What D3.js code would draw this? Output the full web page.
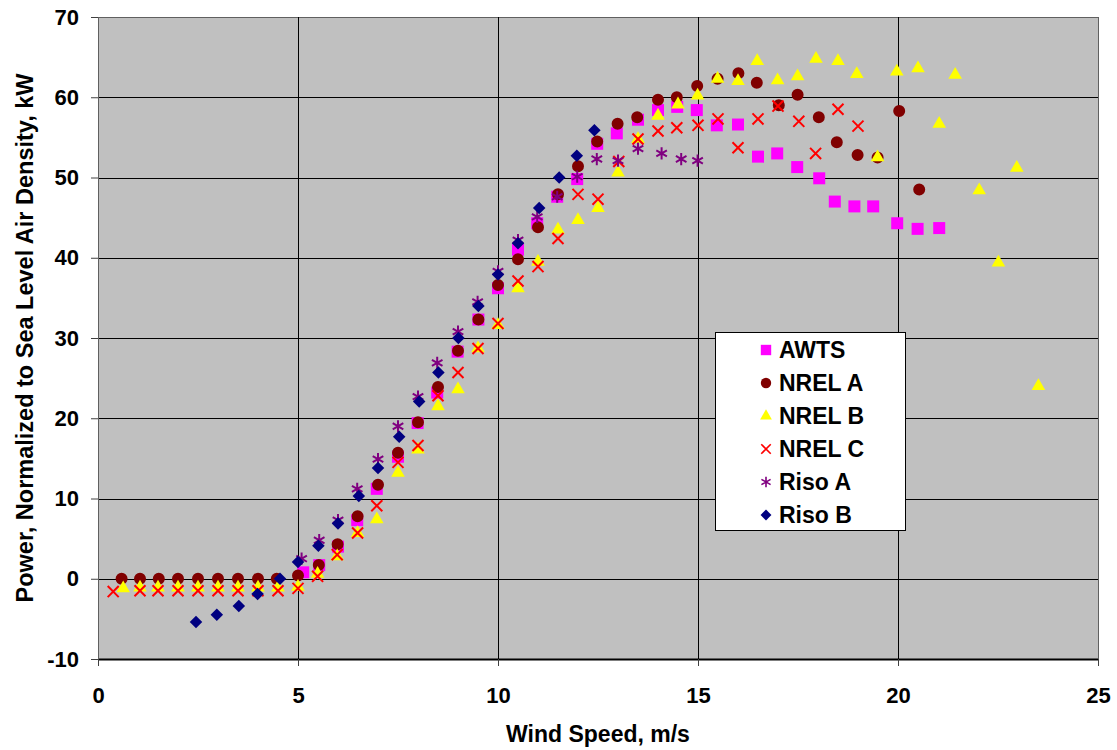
<!DOCTYPE html>
<html>
<head>
<meta charset="utf-8">
<script src="https://cdn.jsdelivr.net/npm/d3@7"></script>
<style>
body{margin:0;background:#fff;}
svg text{font-family:"Liberation Sans",Arial,sans-serif;font-weight:bold;fill:#000;}
</style>
</head>
<body>
<svg id="chart"></svg>
<script>
var w=1117;
var h=750;
var margin={left:98,right:19,top:17,bottom:91};

var seriesNames=["AWTS","NREL A","NREL B","NREL C","Riso A","Riso B"];
var xTicks=[0,5,10,15,20,25];
var yTicks=[-10,0,10,20,30,40,50,60,70];

var awtsX=[5.13,5.53,6.0,6.48,6.97,7.5,7.99,8.48,8.99,9.51,10.0,10.5,10.98,11.48,11.98,12.48,12.97,13.5,14.0,14.48,14.97,15.47,16.0,16.5,16.98,17.48,18.03,18.42,18.91,19.38,19.98,20.49,21.03];
var awtsY=[0.8,1.7,4.0,7.3,11.2,15.2,19.4,23.2,28.3,32.3,36.2,41.0,44.3,47.6,49.8,54.2,55.5,57.2,58.4,58.8,58.4,56.5,56.6,52.6,53.0,51.3,49.9,47.0,46.4,46.4,44.3,43.6,43.7];

var nrelAX=[0.59,1.05,1.52,2.0,2.5,3.0,3.5,4.0,4.47,5.0,5.52,5.99,6.49,7.0,7.5,8.0,8.5,9.0,9.51,10.0,10.5,11.0,11.5,12.0,12.48,12.99,13.48,14.0,14.47,14.98,15.49,16.01,16.47,17.02,17.49,18.02,18.47,18.99,19.49,20.03,20.53];
var nrelAY=[0,0,0,0,0,0,0,0,0,0.4,1.7,4.3,7.8,11.7,15.7,19.5,23.9,28.4,32.3,36.6,39.8,43.8,47.9,51.4,54.5,56.7,57.5,59.7,60.0,61.4,62.3,63.0,61.8,59.0,60.3,57.5,54.4,52.8,52.5,58.3,48.5];

var nrelBX=[0.63,1.05,1.5,2.0,2.5,3.0,3.5,4.0,4.5,5.0,5.49,5.98,6.49,6.97,7.5,8.0,8.5,9.0,9.5,10.0,10.5,11.0,11.5,12.0,12.5,13.0,13.5,14.0,14.5,14.99,15.49,16.0,16.48,16.99,17.49,17.95,18.5,18.97,19.49,19.97,20.5,21.03,21.43,22.03,22.51,22.97,23.51];
var nrelBY=[-1.2,-1.1,-1.1,-1.1,-1.1,-1.1,-1.1,-1.1,-1.1,-1.0,0.6,2.8,5.7,7.4,13.2,16.1,21.5,23.6,28.7,31.6,36.2,39.5,43.5,44.7,46.2,50.6,54.8,57.7,59.1,60.2,62.3,62.0,64.5,62.1,62.6,64.8,64.5,62.9,52.5,63.2,63.6,56.7,62.8,48.4,39.4,51.2,24.0];

var nrelCX=[0.38,1.05,1.5,2.0,2.5,3.0,3.5,4.0,4.5,5.0,5.49,5.98,6.49,6.97,7.5,8.0,8.5,9.0,9.5,10.0,10.5,11.0,11.5,12.0,12.5,13.02,13.5,14.0,14.47,15.0,15.5,16.0,16.5,17.0,17.52,17.94,18.5,19.0];
var nrelCY=[-1.6,-1.5,-1.5,-1.5,-1.5,-1.5,-1.5,-1.5,-1.5,-1.2,0.3,3.0,5.7,9.1,14.5,16.6,22.8,25.7,28.7,31.8,37.1,38.9,42.4,47.9,47.3,52.0,54.8,55.8,56.2,56.5,57.3,53.7,57.3,58.9,57.0,53.0,58.5,56.4];

var risoAX=[5.09,5.53,6.0,6.48,7.0,7.5,8.0,8.48,9.0,9.49,10.0,10.5,10.98,11.48,11.98,12.47,13.0,13.5,14.09,14.58,14.99];
var risoAY=[2.5,4.8,7.3,11.2,14.9,19.0,22.7,26.9,30.8,34.5,38.3,42.2,45.1,47.6,50.1,52.3,52.1,53.6,53.0,52.3,52.1];

var risoBX=[2.45,2.97,3.52,3.99,4.55,5.0,5.51,6.0,6.52,7.0,7.53,8.03,8.51,9.01,9.51,10.0,10.5,11.03,11.53,11.97,12.41];
var risoBY=[-5.4,-4.5,-3.4,-1.9,0.0,2.1,4.1,6.9,10.3,13.8,17.7,22.1,25.7,30.0,34.0,37.9,41.8,46.2,50.0,52.7,55.9];

var colors=["#ff00ff","#800000","#ffff00","#ff0000","#800080","#000080"];
var symbols=[d3.symbolSquare,d3.symbolCircle,d3.symbolTriangle,d3.symbolTimes,d3.symbolAsterisk,d3.symbolDiamond2];
var sizes=[144,113,80,81,105,100];
var stroked=[false,false,false,true,true,false];

var series=[
  {name:seriesNames[0],x:awtsX,y:awtsY},
  {name:seriesNames[1],x:nrelAX,y:nrelAY},
  {name:seriesNames[2],x:nrelBX,y:nrelBY},
  {name:seriesNames[3],x:nrelCX,y:nrelCY},
  {name:seriesNames[4],x:risoAX,y:risoAY},
  {name:seriesNames[5],x:risoBX,y:risoBY}
];

var xScale=d3.scaleLinear()
             .domain([0,25])
             .range([margin.left,w-margin.right]);
var yScale=d3.scaleLinear()
             .domain([-10,70])
             .range([h-margin.bottom,margin.top]);

var svg=d3.select("#chart")
          .attr("width",w)
          .attr("height",h);

// plot area
svg.append("rect")
   .attr("x",xScale(0))
   .attr("y",yScale(70))
   .attr("width",xScale(25)-xScale(0))
   .attr("height",yScale(-10)-yScale(70))
   .attr("fill","#c0c0c0");

// grid
svg.append("g")
   .selectAll("line")
   .data(yTicks)
   .enter()
   .append("line")
   .attr("x1",xScale(0))
   .attr("x2",xScale(25))
   .attr("y1",function(d){return Math.round(yScale(d))+0.5;})
   .attr("y2",function(d){return Math.round(yScale(d))+0.5;})
   .attr("stroke",function(d){return (d==70)?"#606060":"#000";})
   .attr("stroke-width",function(d){return (d==-10)?2:1;});
svg.append("g")
   .selectAll("line")
   .data(xTicks)
   .enter()
   .append("line")
   .attr("y1",yScale(70))
   .attr("y2",yScale(-10))
   .attr("x1",function(d){return Math.round(xScale(d))+0.5;})
   .attr("x2",function(d){return Math.round(xScale(d))+0.5;})
   .attr("stroke",function(d){return (d==0||d==25)?"#606060":"#000";})
   .attr("stroke-width",1);

// axes
var xAxis=d3.axisBottom(xScale)
            .tickValues(xTicks)
            .tickFormat(function(d){return String(d);})
            .tickSize(7)
            .tickPadding(21)
            .tickSizeOuter(0);
var yAxis=d3.axisLeft(yScale)
            .tickValues(yTicks)
            .tickFormat(function(d){return String(d);})
            .tickSize(7)
            .tickPadding(12)
            .tickSizeOuter(0);
var gx=svg.append("g")
          .attr("transform","translate(0,"+yScale(-10)+")")
          .call(xAxis);
var gy=svg.append("g")
          .attr("transform","translate("+margin.left+",0)")
          .call(yAxis);
[gx,gy].forEach(function(g){
  g.selectAll(".domain").remove();
  g.selectAll("line").attr("stroke","#404040");
  g.selectAll("text")
   .style("font-size","22px")
   .style("font-family","'Liberation Sans',Arial,sans-serif")
   .style("font-weight","bold")
   .attr("fill","#000");
});

svg.append("text")
   .attr("x",(xScale(0)+xScale(25))/2)
   .attr("y",742)
   .attr("text-anchor","middle")
   .style("font-size","23px")
   .text("Wind Speed, m/s");
svg.append("text")
   .attr("transform","translate(33,"+((yScale(70)+yScale(-10))/2)+") rotate(-90)")
   .attr("text-anchor","middle")
   .style("font-size","23.5px")
   .text("Power, Normalized to Sea Level Air Density, kW");

// points
series.forEach(function(s,i){
  var pts=s.x.map(function(v,j){return {x:v,y:s.y[j]};});
  svg.append("g")
     .selectAll("path")
     .data(pts)
     .enter()
     .append("path")
     .attr("transform",function(d){return "translate("+xScale(d.x)+","+yScale(d.y)+")";})
     .attr("d",d3.symbol().type(symbols[i]).size(sizes[i]))
     .attr("fill",stroked[i]?"none":colors[i])
     .attr("stroke",stroked[i]?colors[i]:"none")
     .attr("stroke-width",stroked[i]?2:0);
});

// legend
var legend=svg.append("g");
legend.append("rect")
      .attr("x",715.5)
      .attr("y",332.5)
      .attr("width",190)
      .attr("height",198)
      .attr("fill","#fff")
      .attr("stroke","#000");
var rows=legend.selectAll("g.row")
               .data(series)
               .enter()
               .append("g")
               .attr("class","row")
               .attr("transform",function(d,i){return "translate(766,"+(350+i*33)+")";});
rows.append("path")
    .attr("d",function(d,i){return d3.symbol().type(symbols[i]).size(sizes[i]*0.75)();})
    .attr("fill",function(d,i){return stroked[i]?"none":colors[i];})
    .attr("stroke",function(d,i){return stroked[i]?colors[i]:"none";})
    .attr("stroke-width",function(d,i){return stroked[i]?1.6:0;});
rows.append("text")
    .attr("x",13)
    .attr("y",8)
    .style("font-size","23px")
    .text(function(d){return d.name;});
</script>
</body>
</html>
